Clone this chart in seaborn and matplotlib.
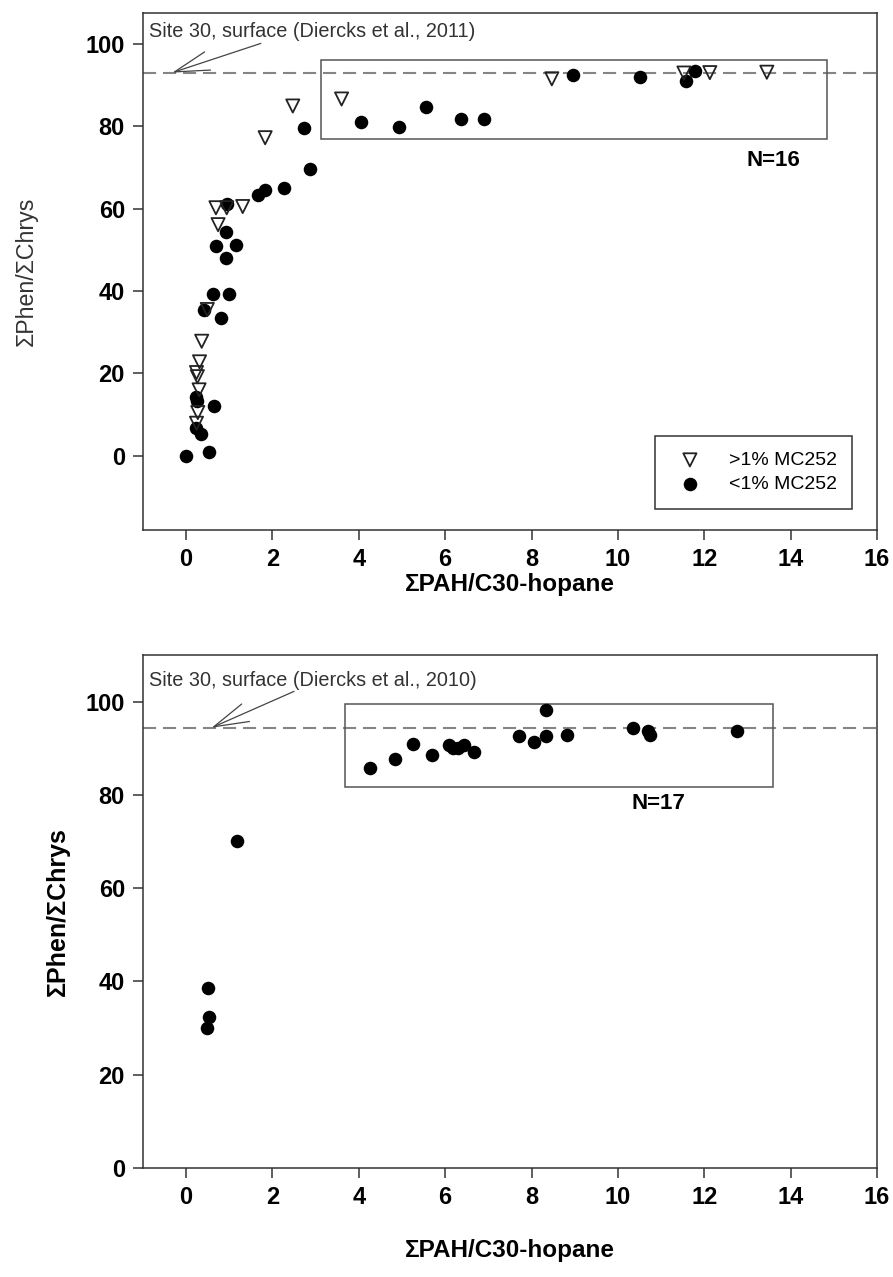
import numpy as np
import pandas as pd
import matplotlib
matplotlib.use("Agg")
import matplotlib.pyplot as plt
import seaborn as sns
from matplotlib.patches import Rectangle

# ---- top panel data ----
top_hi_x = [3.60, 2.47, 1.83, 0.69, 0.94, 1.31, 0.74, 0.49, 0.36, 0.31, 0.24, 0.26,
            0.30, 0.27, 0.24, 8.47, 11.53, 12.13, 13.45]
top_hi_y = [86.6, 84.9, 77.2, 60.2, 60.2, 60.5, 56.1, 35.5, 27.8, 22.8, 20.2, 19.2,
            16.0, 10.5, 7.9, 91.5, 92.9, 93.0, 93.1]

top_lo_x = [2.73, 4.05, 4.92, 5.55, 6.37, 6.91, 2.87, 2.26, 1.83, 1.67, 0.94, 0.92,
            0.69, 1.15, 0.92, 0.63, 0.99, 0.41, 0.80, 0.22, 0.25, 0.65, 0.22, 0.34,
            -0.01, 0.52, 8.95, 10.52, 11.58, 11.79]
top_lo_y = [79.5, 80.9, 79.8, 84.6, 81.7, 81.7, 69.5, 65.0, 64.4, 63.4, 61.1, 54.2,
            51.0, 51.2, 48.1, 39.2, 39.2, 35.3, 33.5, 14.3, 13.2, 12.0, 6.7, 5.4,
            0.0, 0.8, 92.4, 92.0, 90.9, 93.4]

# ---- bottom panel data ----
bot_x = [0.51, 0.52, 0.49, 1.17, 4.27, 4.84, 5.26, 5.69, 6.08, 6.19, 6.30, 6.44,
         6.66, 7.71, 8.05, 8.33, 8.33, 8.83, 10.35, 10.70, 10.74, 12.77]
bot_y = [38.5, 32.3, 30.1, 70.2, 85.8, 87.6, 90.9, 88.5, 90.6, 90.1, 90.1, 90.8,
         89.1, 92.7, 91.4, 98.1, 92.6, 92.8, 94.3, 93.8, 92.9, 93.8]

top_ref = 93.0
bot_ref = 94.4
top_box = (3.13, 76.9, 14.84, 96.1)
bot_box = (3.68, 81.6, 13.60, 99.4)

xticks = [0, 2, 4, 6, 8, 10, 12, 14, 16]
yticks = [0, 20, 40, 60, 80, 100]

sns.set_style("ticks")
plt.rcParams["font.family"] = ["Liberation Sans", "DejaVu Sans"]
plt.rcParams["text.color"] = "black"
plt.rcParams["axes.labelcolor"] = "black"
NARROW = ["Liberation Sans Narrow", "Liberation Sans", "DejaVu Sans"]

fig = plt.figure(figsize=(8.93, 12.77), dpi=100)
ax1 = fig.add_axes([0.1601, 0.5850, 0.8219, 0.4049])
ax2 = fig.add_axes([0.1601, 0.0854, 0.8219, 0.4017])

df_lo = pd.DataFrame({"x": top_lo_x, "y": top_lo_y})
df_hi = pd.DataFrame({"x": top_hi_x, "y": top_hi_y})
df_bot = pd.DataFrame({"x": bot_x, "y": bot_y})

sns.scatterplot(data=df_lo, x="x", y="y", ax=ax1, color="black", s=95,
                marker="o", linewidth=0, zorder=3)
sns.scatterplot(data=df_hi, x="x", y="y", ax=ax1, color="black", s=90,
                marker="v", zorder=4)
circ = ax1.collections[0]
tri = ax1.collections[1]
tri.set_facecolor("none")
tri.set_edgecolor("#222222")
tri.set_linewidth(1.3)

sns.scatterplot(data=df_bot, x="x", y="y", ax=ax2, color="black", s=95,
                marker="o", linewidth=0, zorder=3)


def style_axis(ax, ylim, ref, box, ann_text, ann_xy, ann_tail, ann_y, n_text, n_xy):
    ax.set_xlim(-1, 16)
    ax.set_ylim(*ylim)
    ax.set_xticks(xticks)
    ax.set_yticks(yticks)
    ax.axhline(ref, color="#858585", ls=(0, (6.3, 3.3)), lw=1.5, zorder=1)
    x0, y0, x1, y1 = box
    ax.add_patch(Rectangle((x0, y0), x1 - x0, y1 - y0, fill=False,
                           ec="#555555", lw=1.1, zorder=2))
    ax.text(-0.87, ann_y, ann_text, fontsize=14.3, color="#333333", va="center")
    ax.annotate("", xy=ann_xy, xytext=ann_tail,
                arrowprops=dict(arrowstyle="->,head_length=2.0,head_width=0.55",
                                color="#444444", lw=0.9, mutation_scale=12.5,
                                shrinkA=0, shrinkB=0))
    ax.text(n_xy[0], n_xy[1], n_text, fontsize=16, fontweight="bold",
            family=NARROW, ha="center", va="center")
    for sp in ax.spines.values():
        sp.set_visible(True)
        sp.set_color("#333333")
        sp.set_linewidth(1.1)
    ax.tick_params(direction="out", length=7, width=1.1, color="#333333",
                   labelcolor="black", pad=6)
    for lab in ax.get_xticklabels():
        lab.set_fontweight("bold")
        lab.set_fontsize(17)
        lab.set_family(NARROW)
    for lab in ax.get_yticklabels():
        lab.set_fontweight("bold")
        lab.set_fontsize(17)


style_axis(ax1, (-18, 107.5), top_ref, top_box,
           "Site 30, surface (Diercks et al., 2011)", (-0.32, top_ref), (1.73, 100.1),
           103.0, "N=16", (13.6, 71.6))
style_axis(ax2, (0, 110), bot_ref, bot_box,
           "Site 30, surface (Diercks et al., 2010)", (0.59, bot_ref), (2.50, 102.2),
           104.5, "N=17", (10.93, 78.2))

ax1.set_xlabel("\u03a3PAH/C30-hopane", fontsize=17.5, fontweight="bold")
ax1.set_ylabel("\u03a3Phen/\u03a3Chrys", fontsize=16.7, color="#333333")
ax2.set_xlabel("\u03a3PAH/C30-hopane", fontsize=17.5, fontweight="bold")
ax2.set_ylabel("\u03a3Phen/\u03a3Chrys", fontsize=18, fontweight="bold")
ax1.xaxis.set_label_coords(0.5, -0.083)
ax2.xaxis.set_label_coords(0.5, -0.138)
ax1.yaxis.set_label_coords(-0.144, 0.5)
ax2.yaxis.set_label_coords(-0.099, 0.5)

leg = ax1.legend([tri, circ], [">1% MC252", "<1% MC252"], loc="lower left",
                 bbox_to_anchor=(0.6975, 0.0406, 0.2685, 0.153), mode="expand",
                 fontsize=14, frameon=True, fancybox=False, borderpad=0.8,
                 labelspacing=0.35, handletextpad=1.0, borderaxespad=0)
leg.get_frame().set_edgecolor("#333333")
leg.get_frame().set_linewidth(1.1)
leg.get_frame().set_alpha(1)

fig.savefig("out.png", dpi=100)
